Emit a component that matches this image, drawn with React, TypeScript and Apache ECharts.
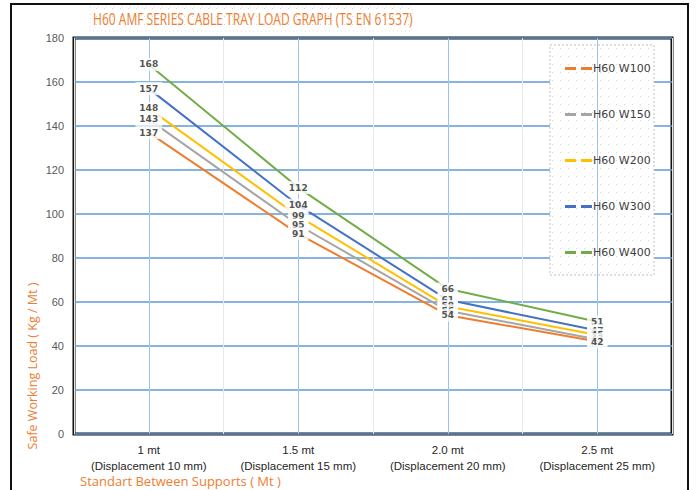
import React, { useEffect, useRef } from "react";
import * as echarts from "echarts";

const categories = [
  "1 mt\n(Displacement 10 mm)",
  "1.5 mt\n(Displacement 15 mm)",
  "2.0 mt\n(Displacement 20 mm)",
  "2.5 mt\n(Displacement 25 mm)",
];
const seriesNames = ["H60 W100", "H60 W150", "H60 W200", "H60 W300", "H60 W400"];
const w100 = [137, 91, 54, 42];
const w150 = [143, 95, 56, 43];
const w200 = [148, 99, 58, 45];
const w300 = [157, 104, 61, 47];
const w400 = [168, 112, 66, 51];
const seriesValues = [w100, w150, w200, w300, w400];
const colors = ["#ED7D31", "#A5A5A5", "#FFC000", "#4472C4", "#70AD47"];

function makeDots(): string | null {
  try {
    const c = document.createElement("canvas");
    c.width = 8;
    c.height = 8;
    const g = c.getContext("2d");
    if (!g) return null;
    g.fillStyle = "#fff";
    g.fillRect(0, 0, 8, 8);
    g.fillStyle = "#D6D6D6";
    g.fillRect(0, 0, 1, 1);
    return c.toDataURL();
  } catch (e) {
    return null;
  }
}

export default function App() {
  const ref = useRef<HTMLDivElement>(null);
  useEffect(() => {
    if (!ref.current) return;
    const chart = echarts.init(ref.current, null, { renderer: "svg" });
    const dots = makeDots();
    const dotFill: any = dots
      ? { image: dots, repeat: "repeat", imageWidth: 8, imageHeight: 8 }
      : "#FDFDFD";
    const series: any[] = [];
    for (let i = 0; i < seriesValues.length; i++) {
      series.push({
        name: seriesNames[i],
        type: "line",
        data: seriesValues[i],
        symbol: "none",
        itemStyle: { color: colors[i] },
        lineStyle: { color: colors[i], width: 2 },
        z: 3,
      });
    }
    for (let i = 0; i < seriesValues.length; i++) {
      series.push({
        name: seriesNames[i] + " label",
        type: "scatter",
        data: seriesValues[i],
        symbolSize: 0,
        itemStyle: { color: colors[i] },
        z: 6 + (seriesValues.length - i),
        silent: true,
        label: {
          show: true,
          position: "inside",
          formatter: "{c}",
          color: "#262626",
          fontSize: 9,
          fontWeight: "bold",
          fontFamily: "DejaVu Sans",
          backgroundColor: "#fff",
          padding: [2, 4],
        },
      });
    }
    series.push({
      name: "vlines",
      type: "line",
      data: [],
      silent: true,
      z: 1,
      markLine: {
        silent: true,
        symbol: "none",
        label: { show: false },
        lineStyle: { color: "#9DC3E6", width: 1, type: "solid" },
        data: categories.map((c) => ({ xAxis: c })),
      },
    });
    chart.setOption({
      animation: false,
      backgroundColor: "#fff",
      grid: {
        left: 74,
        top: 38,
        right: 24,
        bottom: 56,
        show: true,
        borderColor: "#111",
        borderWidth: 3,
        backgroundColor: "#fff",
        z: 0,
      },
      legend: {
        data: seriesNames,
        orient: "vertical",
        left: 560,
        top: 58,
        itemGap: 35,
        itemWidth: 27,
        itemHeight: 3,
        z: 20,
        icon: "path://M0,0 h11 v3 h-11z M16,0 h11 v3 h-11z",
        textStyle: { color: "#404040", fontSize: 11, fontFamily: "DejaVu Sans", padding: [0, 0, 0, -4] },
        backgroundColor: "rgba(0,0,0,0)",
      },
      xAxis: {
        type: "category",
        data: categories,
        boundaryGap: true,
        axisLine: { show: false },
        axisTick: { show: false },
        axisLabel: {
          color: "#262626",
          fontSize: 11.5,
          fontFamily: "Liberation Sans",
          lineHeight: 16,
          margin: 8,
          interval: 0,
        },
        splitLine: { show: true, lineStyle: { color: "#E8E8E8", width: 1 } },
      },
      yAxis: {
        type: "value",
        min: 0,
        max: 180,
        interval: 20,
        axisLine: { show: false },
        axisTick: { show: false },
        axisLabel: { color: "#595959", fontSize: 11, fontFamily: "Liberation Sans", margin: 10 },
        splitLine: { show: true, lineStyle: { color: "#5B9BD5", width: 1.5 } },
      },
      graphic: [
        {
          type: "rect",
          shape: { x: 11, y: 4, width: 677, height: 500 },
          style: { fill: "none", stroke: "#111", lineWidth: 2 },
          silent: true,
          z: 100,
        },
        {
          type: "rect",
          shape: { x: 550, y: 45, width: 104, height: 230 },
          style: { fill: dotFill, stroke: "#BFBFBF", lineWidth: 1, lineDash: [2, 2] },
          silent: true,
          z: 5,
        },
        {
          type: "rect",
          shape: { x: 90, y: 7, width: 322, height: 24 },
          style: { fill: dotFill, stroke: "#E0E0E0", lineWidth: 1, lineDash: [1, 3] },
          silent: true,
          z: 5,
        },
        {
          type: "text",
          x: 93,
          y: 19,
          scaleX: 0.73,
          style: {
            text: "H60 AMF SERIES CABLE TRAY LOAD GRAPH (TS EN 61537)",
            fill: "#ED7D31",
            fontSize: 16.5,
            fontFamily: "Open Sans",
            verticalAlign: "middle",
            align: "left",
          },
          z: 10,
        },
        {
          type: "text",
          x: 32,
          y: 366,
          rotation: Math.PI / 2,
          style: {
            text: "Safe Working Load ( Kg / Mt )",
            fill: "#ED7D31",
            fontSize: 12.5,
            fontFamily: "Open Sans",
            verticalAlign: "middle",
            align: "center",
          },
          z: 10,
        },
        {
          type: "text",
          x: 80,
          y: 481,
          style: {
            text: "Standart Between Supports ( Mt )",
            fill: "#ED7D31",
            fontSize: 13,
            fontFamily: "Open Sans",
            verticalAlign: "middle",
            align: "left",
          },
          z: 10,
        },
      ],
      series,
    });
    return () => chart.dispose();
  }, []);
  return (
    <div
      ref={ref}
      style={{ position: "fixed", left: 0, top: 0, width: 696, height: 490 }}
    />
  );
}
